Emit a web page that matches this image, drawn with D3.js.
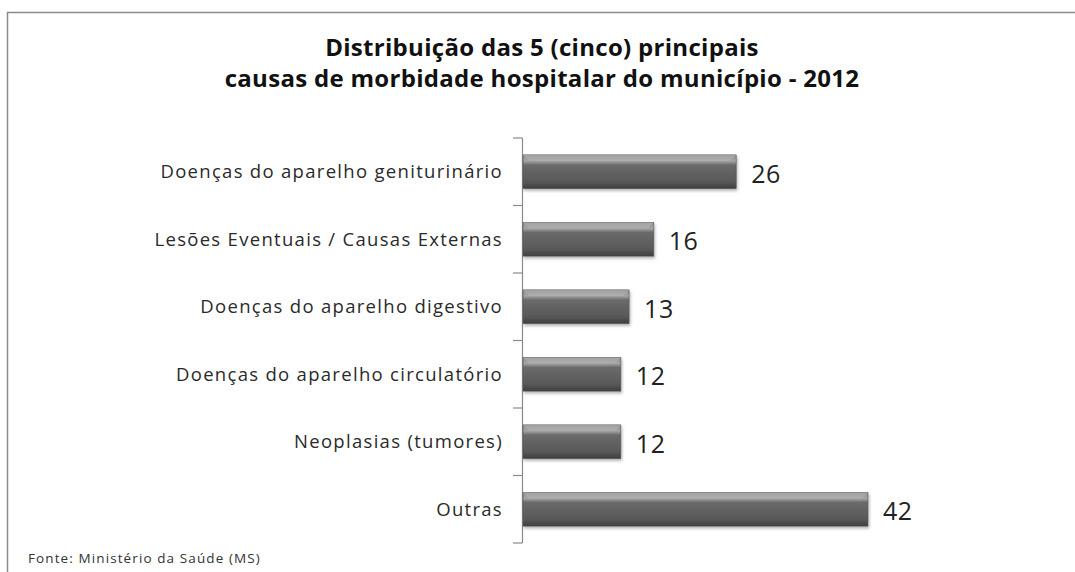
<!DOCTYPE html>
<html>
<head>
<meta charset="utf-8">
<script src="https://cdn.jsdelivr.net/npm/d3@7"></script>
<style>
body { margin: 0; background: #fff; }
svg { display: block; }
</style>
</head>
<body>
<svg id="chart" width="1075" height="572"></svg>
<script>
var categorias = ["Doenças do aparelho geniturinário", "Lesões Eventuais / Causas Externas",
	"Doenças do aparelho digestivo", "Doenças do aparelho circulatório",
	"Neoplasias (tumores)", "Outras"];
var valores = [26, 16, 13, 12, 12, 42];
var titulo = ["Distribuição das 5 (cinco) principais", "causas de morbidade hospitalar do município - 2012"];
var fonte = "Fonte: Ministério da Saúde (MS)";

var svg = d3.select("#chart");
var fam = "'Open Sans', 'Noto Sans', sans-serif";

// moldura
svg.append("rect").attr("x", 7.5).attr("y", 12.5).attr("width", 1100).attr("height", 600)
	.attr("fill", "none").attr("stroke", "#8a8a8a").attr("stroke-width", 1.5);

// gradiente das barras
var defs = svg.append("defs");
var grad = defs.append("linearGradient").attr("id", "gbar").attr("x1", 0).attr("y1", 0).attr("x2", 0).attr("y2", 1);
grad.append("stop").attr("offset", "0%").attr("stop-color", "#8c8c8c");
grad.append("stop").attr("offset", "18%").attr("stop-color", "#a5a5a5");
grad.append("stop").attr("offset", "30%").attr("stop-color", "#6a6a6a");
grad.append("stop").attr("offset", "80%").attr("stop-color", "#585858");
grad.append("stop").attr("offset", "100%").attr("stop-color", "#3e3e3e");
var sombra = defs.append("filter").attr("id", "sombra").attr("x", "-5%").attr("y", "-20%").attr("width", "110%").attr("height", "160%");
sombra.append("feDropShadow").attr("dx", 1).attr("dy", 2).attr("stdDeviation", 1.5).attr("flood-color", "#000").attr("flood-opacity", 0.3);

svg.selectAll("text.titulo").data(titulo).enter().append("text")
	.attr("class", "titulo")
	.attr("x", 542).attr("y", function(d, i){ return 56 + i * 31; })
	.attr("text-anchor", "middle")
	.attr("font-family", fam).attr("font-weight", "bold").attr("font-size", 24)
	.attr("letter-spacing", "0.3")
	.attr("fill", "#111").text(function(d){ return d; });

var x0 = 522;
var x = d3.scaleLinear().domain([0, 42]).range([x0, 868]);
var y = d3.scaleBand().domain(categorias).range([138, 543]).paddingInner(0.5).paddingOuter(0.25);

// eixo vertical com ticks entre as categorias
var g = svg.append("g");
g.append("line").attr("x1", x0 + 0.5).attr("x2", x0 + 0.5).attr("y1", 138).attr("y2", 543)
	.attr("stroke", "#8a8a8a").attr("stroke-width", 1.2);
var ticks = d3.range(categorias.length + 1).map(function(i){ return 138 + i * (405 / categorias.length); });
g.selectAll("line.tick").data(ticks).enter().append("line")
	.attr("class", "tick")
	.attr("x1", 513).attr("x2", x0 + 0.5)
	.attr("y1", function(d){ return d; }).attr("y2", function(d){ return d; })
	.attr("stroke", "#8a8a8a").attr("stroke-width", 1.2);

var bars = svg.selectAll("g.barra").data(categorias).enter().append("g").attr("class", "barra");
bars.append("rect")
	.attr("x", x0 + 1)
	.attr("y", function(d){ return y(d); })
	.attr("width", function(d, i){ return x(valores[i]) - x0 - 1; })
	.attr("height", y.bandwidth())
	.attr("fill", "url(#gbar)")
	.attr("stroke", "#555").attr("stroke-width", 0.6)
	.attr("filter", "url(#sombra)");
// brilho do chanfro superior
bars.append("path")
	.attr("d", function(d, i){
		var a = x0 + 1, b = x(valores[i]), t = y(d), h = 6;
		return "M" + a + "," + t + "L" + b + "," + t + "L" + (b - h) + "," + (t + h) + "L" + (a + h) + "," + (t + h) + "Z";
	})
	.attr("fill", "#b5b5b5").attr("opacity", 0.55);

svg.selectAll("text.cat").data(categorias).enter().append("text")
	.attr("class", "cat")
	.attr("x", 503)
	.attr("y", function(d){ return y(d) + y.bandwidth() / 2; })
	.attr("dy", "0.35em")
	.attr("text-anchor", "end")
	.attr("font-family", fam).attr("font-size", 18.5).attr("letter-spacing", "1.3")
	.attr("fill", "#2a2a2a").text(function(d){ return d; });

svg.selectAll("text.val").data(categorias).enter().append("text")
	.attr("class", "val")
	.attr("x", function(d, i){ return x(valores[i]) + 15; })
	.attr("y", function(d){ return y(d) + y.bandwidth() / 2 + 2; })
	.attr("dy", "0.35em")
	.attr("font-family", fam).attr("font-size", 25).attr("letter-spacing", "0.5")
	.attr("fill", "#222").text(function(d, i){ return valores[i]; });

svg.append("text").attr("x", 28).attr("y", 563)
	.attr("font-family", fam).attr("font-size", 13.5).attr("fill", "#333")
	.attr("letter-spacing", "1.1").text(fonte);
</script>
</body>
</html>
